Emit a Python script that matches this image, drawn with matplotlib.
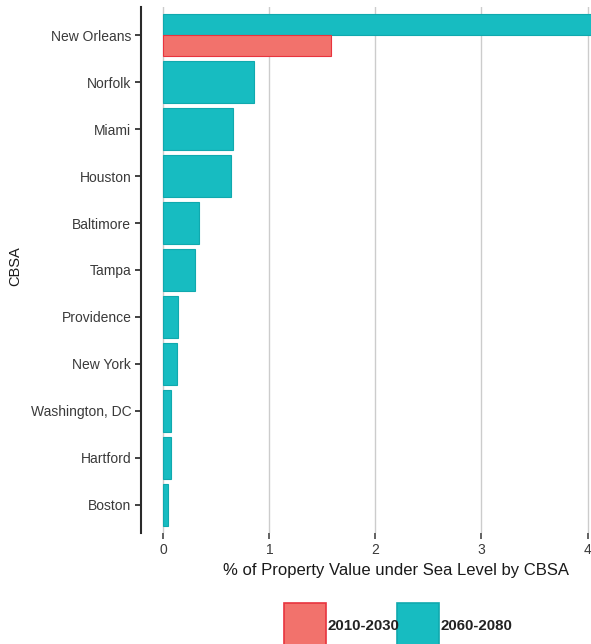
import numpy as np
import matplotlib
matplotlib.use("Agg")
import matplotlib.pyplot as plt
from matplotlib.patches import Rectangle

plt.rcParams['font.family'] = ['Liberation Sans', 'DejaVu Sans']

cities = ["New Orleans", "Norfolk", "Miami", "Houston", "Baltimore", "Tampa",
          "Providence", "New York", "Washington, DC", "Hartford", "Boston"]
v_2060 = [4.2, 0.856, 0.66, 0.636, 0.34, 0.30, 0.136, 0.13, 0.07, 0.07, 0.042]
v_2010 = [1.58, np.nan, np.nan, np.nan, np.nan, np.nan, np.nan, np.nan, np.nan, np.nan, np.nan]
series = ["2010-2030", "2060-2080"]
xticks = [0, 1, 2, 3, 4]

RED_FILL, RED_EDGE = "#F2726C", "#E8343E"
TEAL_FILL, TEAL_EDGE = "#17BCC1", "#10A9AE"

W, H = 591, 644
fig = plt.figure(figsize=(W / 100, H / 100), dpi=100)
left_px, right_px = 141, 631
top_px, bot_px = 7, 533
ax = fig.add_axes([left_px / W, (H - bot_px) / H, (right_px - left_px) / W, (bot_px - top_px) / H])

y = np.arange(len(cities))
bw = 0.9
for i in range(len(cities)):
    if np.isnan(v_2010[i]):
        ax.barh(y[i], v_2060[i], height=bw, color=TEAL_FILL, edgecolor=TEAL_EDGE, linewidth=0.8, zorder=3)
    else:
        ax.barh(y[i] - bw / 4, v_2060[i], height=bw / 2, color=TEAL_FILL, edgecolor=TEAL_EDGE, linewidth=0.8, zorder=3)
        ax.barh(y[i] + bw / 4, v_2010[i], height=bw / 2, color=RED_FILL, edgecolor=RED_EDGE, linewidth=0.8, zorder=3)

ax.set_xlim(-0.21, 4.41)
ax.set_ylim(len(cities) - 1 + 0.6, -0.6)
ax.set_yticks(y)
ax.set_yticklabels(cities, fontsize=10, color="#3a3a3a")
ax.set_xticks(xticks)
ax.set_xticklabels([str(t) for t in xticks], fontsize=10, color="#3a3a3a")
ax.xaxis.grid(True, color="#cccccc", linewidth=1.0, zorder=0)
ax.set_axisbelow(True)
for s in ["top", "right", "bottom"]:
    ax.spines[s].set_visible(False)
ax.spines["left"].set_color("#2a2a2a")
ax.spines["left"].set_linewidth(1.5)
ax.tick_params(axis="y", length=4, width=1.3, color="#333333", pad=3)
ax.tick_params(axis="x", length=4, width=1.3, color="#555555", pad=3)

fig.text(396 / W, 1 - 570 / H, "% of Property Value under Sea Level by CBSA",
         fontsize=12, color="#1a1a1a", ha="center", va="center")
fig.text(15 / W, 1 - 266 / H, "CBSA", fontsize=10.5, color="#1a1a1a",
         ha="center", va="center", rotation=90)

# legend
keys = [(284, RED_FILL, RED_EDGE, series[0]), (397, TEAL_FILL, TEAL_EDGE, series[1])]
for x0, fc, ec, lab in keys:
    fig.add_artist(Rectangle((x0 / W, (H - 646) / H), 42 / W, 43 / H, transform=fig.transFigure,
                             facecolor=fc, edgecolor=ec, linewidth=1.2))
    fig.text((x0 + 43) / W, 1 - 626 / H, lab, fontsize=10.8, fontweight="bold",
             color="#222222", ha="left", va="center")

fig.savefig("out.png", dpi=100)
